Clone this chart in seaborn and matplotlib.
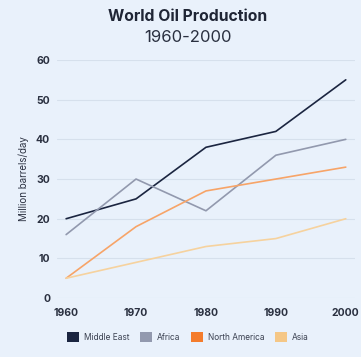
import pandas as pd
import matplotlib.pyplot as plt
import seaborn as sns
from matplotlib.patches import Patch

# datos
years = [1960, 1970, 1980, 1990, 2000]
middle_east = [20, 25, 38, 42, 55]
africa = [16, 30, 22, 36, 40]
north_america = [5, 18, 27, 30, 33]
asia = [5, 9, 13, 15, 20]

regions = ['Middle East', 'Africa', 'North America', 'Asia']
colors = ['#1b2540', '#9299ae', '#f7a468', '#f6d29e']
legend_colors = ['#1b2540', '#9299ae', '#f47c2c', '#f5c786']

data = pd.DataFrame({
    'Year': years * 4,
    'Value': middle_east + africa + north_america + asia,
    'Region': sum([[r] * len(years) for r in regions], []),
})

bg = '#e9f1fb'
sns.set_style('white')
plt.rcParams['font.family'] = ['Inter', 'DejaVu Sans']

fig = plt.figure(figsize=(3.61, 3.57), dpi=100, facecolor=bg)
ax = fig.add_axes([0.158, 0.165, 0.825, 0.667], facecolor=bg)

sns.lineplot(data=data, x='Year', y='Value', hue='Region', palette=colors,
             linewidth=1.2, legend=False, ax=ax)

ax.set_xlim(1958.7, 2001.3)
ax.set_ylim(0, 60)
ax.set_xticks(years)
ax.set_yticks(range(0, 61, 10))
ax.grid(axis='y', color='#d6e0ec', linewidth=0.8)
ax.set_axisbelow(True)
for s in ax.spines.values():
    s.set_visible(False)
ax.tick_params(axis='both', length=0, labelsize=7.5, labelcolor='#2a3040')
ax.tick_params(axis='x', pad=7)
ax.tick_params(axis='y', pad=5)
for lbl in ax.get_xticklabels() + ax.get_yticklabels():
    lbl.set_fontweight('bold')
ax.set_xlabel('')
ax.set_ylabel('Million barrels/day', fontsize=7, color='#2a3040', labelpad=5)

fig.text(0.52, 0.955, 'World Oil Production', ha='center', va='center',
         fontsize=11.3, fontweight='bold', color='#1f2535')
fig.text(0.52, 0.895, '1960-2000', ha='center', va='center',
         fontsize=12, color='#2a3040')

handles = [Patch(facecolor=c, edgecolor='none') for c in legend_colors]
fig.legend(handles, regions, loc='center', bbox_to_anchor=(0.52, 0.055), ncol=4,
           frameon=False, fontsize=6, handlelength=1.5, handleheight=1.5,
           handletextpad=0.6, columnspacing=1.2, labelcolor='#3a4050')

fig.savefig('out.png', dpi=100, facecolor=bg)
